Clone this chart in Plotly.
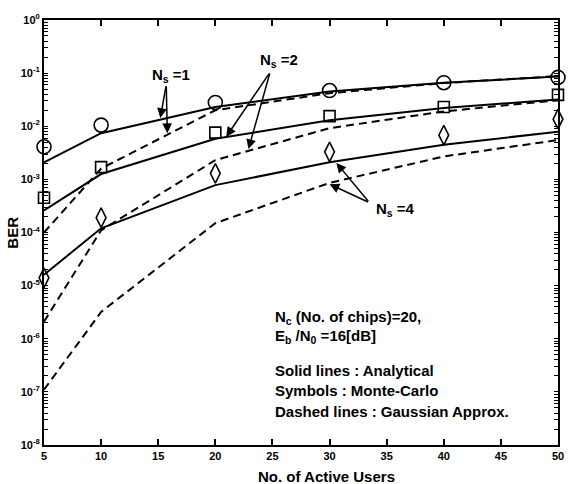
import plotly.graph_objects as go

users = [5, 10, 20, 30, 40, 50]
ana_ns1 = [2.1e-3, 7.4e-3, 0.023, 0.045, 0.066, 0.086]
ana_ns2 = [2.6e-4, 1.26e-3, 5.8e-3, 0.013, 0.022, 0.032]
ana_ns4 = [1.6e-5, 1.2e-4, 7.8e-4, 2.1e-3, 4.5e-3, 7.9e-3]
mc_ns1 = [4.1e-3, 0.0105, 0.028, 0.047, 0.066, 0.083]
mc_ns2 = [4.5e-4, 1.7e-3, 7.6e-3, 0.0155, 0.023, 0.039]
mc_ns4 = [1.4e-5, 1.9e-4, 1.3e-3, 3.3e-3, 6.8e-3, 0.0136]
ga_ns1 = [1.0e-4, 1.6e-3, 0.020, 0.042, 0.065, 0.088]
ga_ns2 = [2.1e-6, 1.1e-4, 2.3e-3, 9.2e-3, 0.019, 0.031]
ga_ns4 = [1.1e-7, 3.2e-6, 1.5e-4, 8.6e-4, 2.7e-3, 5.5e-3]

x_ticks = [5, 10, 15, 20, 25, 30, 35, 40, 45, 50]
y_exps = [0, -1, -2, -3, -4, -5, -6, -7, -8]
y_ticktext = ["10<sup>%s</sup>" % ("0" if e == 0 else "-%d" % (-e)) for e in y_exps]
y_minor = [m * 10.0 ** e for e in y_exps[1:] for m in range(2, 10)]

FONT = "Liberation Sans"
fig = go.Figure()

for ys in (ana_ns1, ana_ns2, ana_ns4):
    fig.add_trace(go.Scatter(x=users, y=ys, mode="lines",
                             line=dict(color="black", width=2), showlegend=False))
for ys in (ga_ns1, ga_ns2, ga_ns4):
    fig.add_trace(go.Scatter(x=users, y=ys, mode="lines",
                             line=dict(color="black", width=2, dash="8px,5px"), showlegend=False))
for ys, sym, sz in ((mc_ns1, "circle-open", 14), (mc_ns2, "square-open", 11),
                    (mc_ns4, "diamond-tall-open", 14)):
    fig.add_trace(go.Scatter(x=users, y=ys, mode="markers", cliponaxis=False,
                             marker=dict(symbol=sym, size=sz, color="black",
                                         line=dict(width=1.6, color="black")),
                             showlegend=False))

arrows = [
    ((15.7, -1.22), (15.18, -1.845)),
    ((15.7, -1.22), (15.8, -2.13)),
    ((24.8, -0.98), (20.95, -2.20)),
    ((24.8, -0.98), (22.9, -2.43)),
    ((33.5, -3.44), (30.6, -2.69)),
    ((33.5, -3.44), (30.0, -3.09)),
]
for (tx, ty), (hx, hy) in arrows:
    fig.add_annotation(x=hx, y=hy, ax=tx, ay=ty, xref="x", yref="y", axref="x", ayref="y",
                       text="", showarrow=True, arrowhead=2, arrowsize=1.3, arrowwidth=1.5,
                       arrowcolor="black")

labels = [("N<sub>s</sub> =1", 16.1, -1.05), ("N<sub>s</sub> =2", 25.6, -0.77),
          ("N<sub>s</sub> =4", 35.8, -3.57)]
for t, x, y in labels:
    fig.add_annotation(x=x, y=y, xref="x", yref="y", text="<b>%s</b>" % t, showarrow=False,
                       font=dict(family=FONT, size=15, color="black"))

info = [("N<sub>c</sub> (No. of chips)=20,", -5.6),
        ("E<sub>b</sub> /N<sub>0</sub> =16[dB]", -5.95),
        ("Solid lines : Analytical", -6.6),
        ("Symbols : Monte-Carlo", -6.98),
        ("Dashed lines : Gaussian Approx.", -7.36)]
for t, y in info:
    fig.add_annotation(x=25.06, y=y, xref="x", yref="y", xanchor="left", yanchor="middle",
                       text="<b>%s</b>" % t, showarrow=False,
                       font=dict(family=FONT, size=15, color="black"))

fig.add_annotation(x=0.549, y=-0.075, xref="paper", yref="paper", xanchor="center", yanchor="middle",
                   text="<b>No. of Active Users</b>",
                   showarrow=False, font=dict(family=FONT, size=15, color="black"))
fig.add_annotation(x=-0.062, y=0.5, xref="paper", yref="paper", xanchor="center", yanchor="middle",
                   text="<b>BER</b>", textangle=-90,
                   showarrow=False, font=dict(family=FONT, size=15, color="black"))

y_tickvals = [10.0 ** e for e in y_exps] + y_minor
y_ticklabels = ["<b>%s</b>" % t for t in y_ticktext] + [""] * len(y_minor)

fig.update_layout(
    width=569, height=484, margin=dict(l=44, r=11, t=20, b=39, autoexpand=False),
    paper_bgcolor="white", plot_bgcolor="white",
    xaxis=dict(range=[5, 50], tickmode="array", tickvals=x_ticks, automargin=False,
               ticktext=["<b>%d</b>" % v for v in x_ticks],
               ticks="inside", ticklen=6, tickwidth=1.5, tickcolor="black",
               showline=True, linecolor="black", linewidth=2, mirror="ticks",
               showgrid=False, zeroline=False,
               tickfont=dict(family=FONT, size=11, color="black")),
    yaxis=dict(type="log", range=[-8, 0], tickmode="array", automargin=False,
               tickvals=y_tickvals, ticktext=y_ticklabels,
               ticks="inside", ticklen=4, tickwidth=1, tickcolor="black",
               showline=True, linecolor="black", linewidth=2, mirror="ticks",
               showgrid=False, zeroline=False,
               tickfont=dict(family=FONT, size=11, color="black")),
)

fig.write_html("out.html")
